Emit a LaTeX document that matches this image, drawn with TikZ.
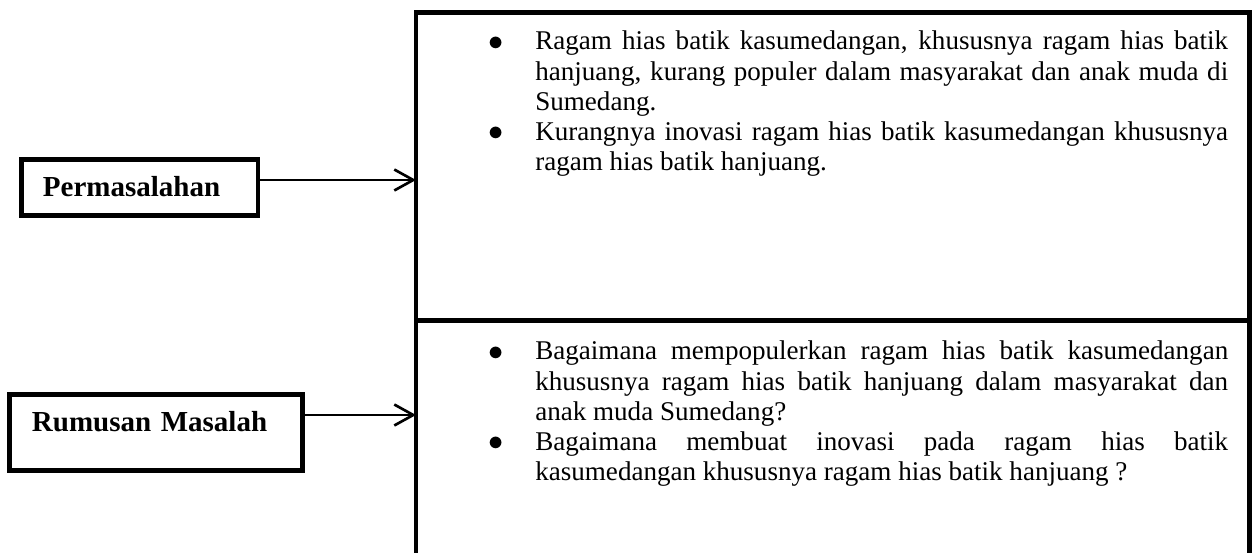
\documentclass[tikz,border=0pt]{standalone}
\usepackage{fontspec}
\usepackage{graphicx}
\setmainfont{Liberation Serif}
\usetikzlibrary{positioning}
\usetikzlibrary{arrows.meta}

\newcommand{\butir}[1]{\noindent\hangindent=0.94cm\hangafter=1\makebox[0.94cm][l]{\raisebox{-0.015cm}{\scalebox{1.2}{$\bullet$}}}#1\par}

\begin{document}
\begin{tikzpicture}[x=0.02cm, y=-0.02cm]
            \tikzstyle{frame}=[rectangle, draw, line width=2.7pt, inner sep=0pt, outer sep=0pt, minimum width=16.67cm];
            \tikzstyle{label_box}=[rectangle, draw, line width=2.7pt, inner ysep=0pt, outer sep=0pt, align=left, anchor=base west, text height=0.75cm, font=\fontsize{16.5pt}{18pt}\selectfont\bfseries];
            \tikzstyle{item_text}=[inner sep=0pt, anchor=base west, text width=14.8cm, align=justify, font=\fontsize{15.4pt}{17.1pt}\selectfont];
            \tikzstyle{arrow}=[line width=1.5pt, -{Straight Barb[length=3.8mm, width=4.2mm]}];

            \clip (0,0) rectangle (1258,553);

            % right column
            \node(masalah_box) [frame, minimum height=6.16cm, anchor=north west] at (416,12.5) {};
            \node(rumusan_box) [frame, minimum height=6.8cm, below = 0cm of masalah_box] {};

            \node(masalah_list) [item_text] at (488,50) {
                \butir{Ragam hias batik kasumedangan, khususnya ragam hias batik\linebreak hanjuang, kurang populer dalam masyarakat dan anak muda di\linebreak Sumedang.}
                \butir{Kurangnya inovasi ragam hias batik kasumedangan khususnya\linebreak ragam hias batik hanjuang.}
            };
            \node(rumusan_list) [item_text] at (488,360) {
                \butir{Bagaimana mempopulerkan ragam hias batik kasumedangan\linebreak khususnya ragam hias batik hanjuang dalam masyarakat dan\linebreak anak muda Sumedang?}
                \butir{Bagaimana membuat inovasi pada ragam hias batik\linebreak kasumedangan khususnya ragam hias batik hanjuang ?}
            };

            % left column
            \node(permasalahan) [label_box, inner xsep=0.43cm, text width=3.87cm, text depth=0.37cm] at (21.5,197) {Permasalahan};
            \node(rumusan) [label_box, inner xsep=0.45cm, text width=4.96cm, text depth=0.77cm] at (9.5,432) {Rumusan Masalah};

            % arrows
            \coordinate(permasalahan_out) at ([yshift=0.15cm]permasalahan.east);
            \coordinate(rumusan_out) at ([yshift=0.35cm]rumusan.east);
            \draw[arrow] (permasalahan_out) -- (permasalahan_out -| masalah_box.west);
            \draw[arrow] (rumusan_out) -- (rumusan_out -| rumusan_box.west);
\end{tikzpicture}
\end{document}
